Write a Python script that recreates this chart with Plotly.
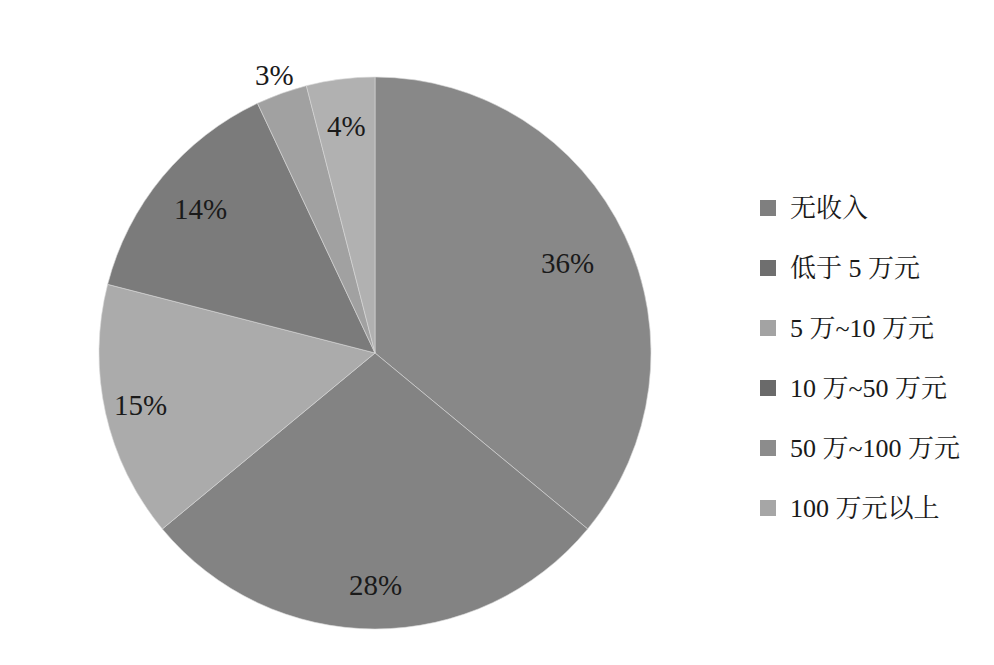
import math
import plotly.graph_objects as go

categories = ["无收入", "低于 5 万元", "5 万~10 万元", "10 万~50 万元", "50 万~100 万元", "100 万元以上"]
values = [36, 28, 15, 14, 3, 4]
slice_colors = ["#888888", "#838383", "#ababab", "#7b7b7b", "#a1a1a1", "#b1b1b1"]
legend_colors = ["#7f7f7f", "#6f6f6f", "#a3a3a3", "#6a6a6a", "#8c8c8c", "#a6a6a6"]
label_radius = [0.77, 0.84, 0.87, 0.82, 1.07, 0.83]

FONT = "Liberation Serif, Times New Roman, Noto Serif CJK SC, Noto Sans CJK SC, serif"
W, H = 994, 665
OFF = 8  # page body margin
CX, CY, R = 375 - OFF, 353 - OFF, 276

fig = go.Figure(go.Pie(
    labels=categories,
    values=values,
    sort=False,
    direction="clockwise",
    rotation=0,
    marker=dict(colors=slice_colors, line=dict(color="#d8d8d8", width=0.6)),
    textinfo="none",
    domain=dict(x=[(CX - R) / W, (CX + R) / W], y=[1 - (CY + R) / H, 1 - (CY - R) / H]),
    showlegend=False,
    hoverinfo="label+percent",
))

annotations = []
shapes = []
total = sum(values)
cum = 0
for v, rf in zip(values, label_radius):
    mid = (cum + v / 2) / total * 2 * math.pi
    cum += v
    px = CX + rf * R * math.sin(mid)
    py = CY - rf * R * math.cos(mid)
    annotations.append(dict(xref="paper", yref="paper", x=px / W, y=1 - py / H,
                            text=f"{round(v / total * 100)}%", showarrow=False,
                            xanchor="center", yanchor="middle",
                            font=dict(family=FONT, size=29, color="#1a1a1a")))

y0 = 208 - OFF
step = 60
for i, (cat, col) in enumerate(zip(categories, legend_colors)):
    yc = y0 + i * step
    shapes.append(dict(type="rect", xref="paper", yref="paper",
                       x0=(760 - OFF) / W, x1=(776 - OFF) / W,
                       y0=1 - (yc + 8) / H, y1=1 - (yc - 8) / H,
                       fillcolor=col, line=dict(width=0)))
    annotations.append(dict(xref="paper", yref="paper", x=(788 - OFF) / W, y=1 - yc / H,
                            text=cat, showarrow=False, xanchor="left", yanchor="middle",
                            font=dict(family=FONT, size=26, color="#1a1a1a")))

fig.update_layout(
    width=W, height=H,
    margin=dict(l=0, r=0, t=0, b=0),
    paper_bgcolor="white", plot_bgcolor="white",
    shapes=shapes, annotations=annotations,
)
fig.write_html("out.html")
